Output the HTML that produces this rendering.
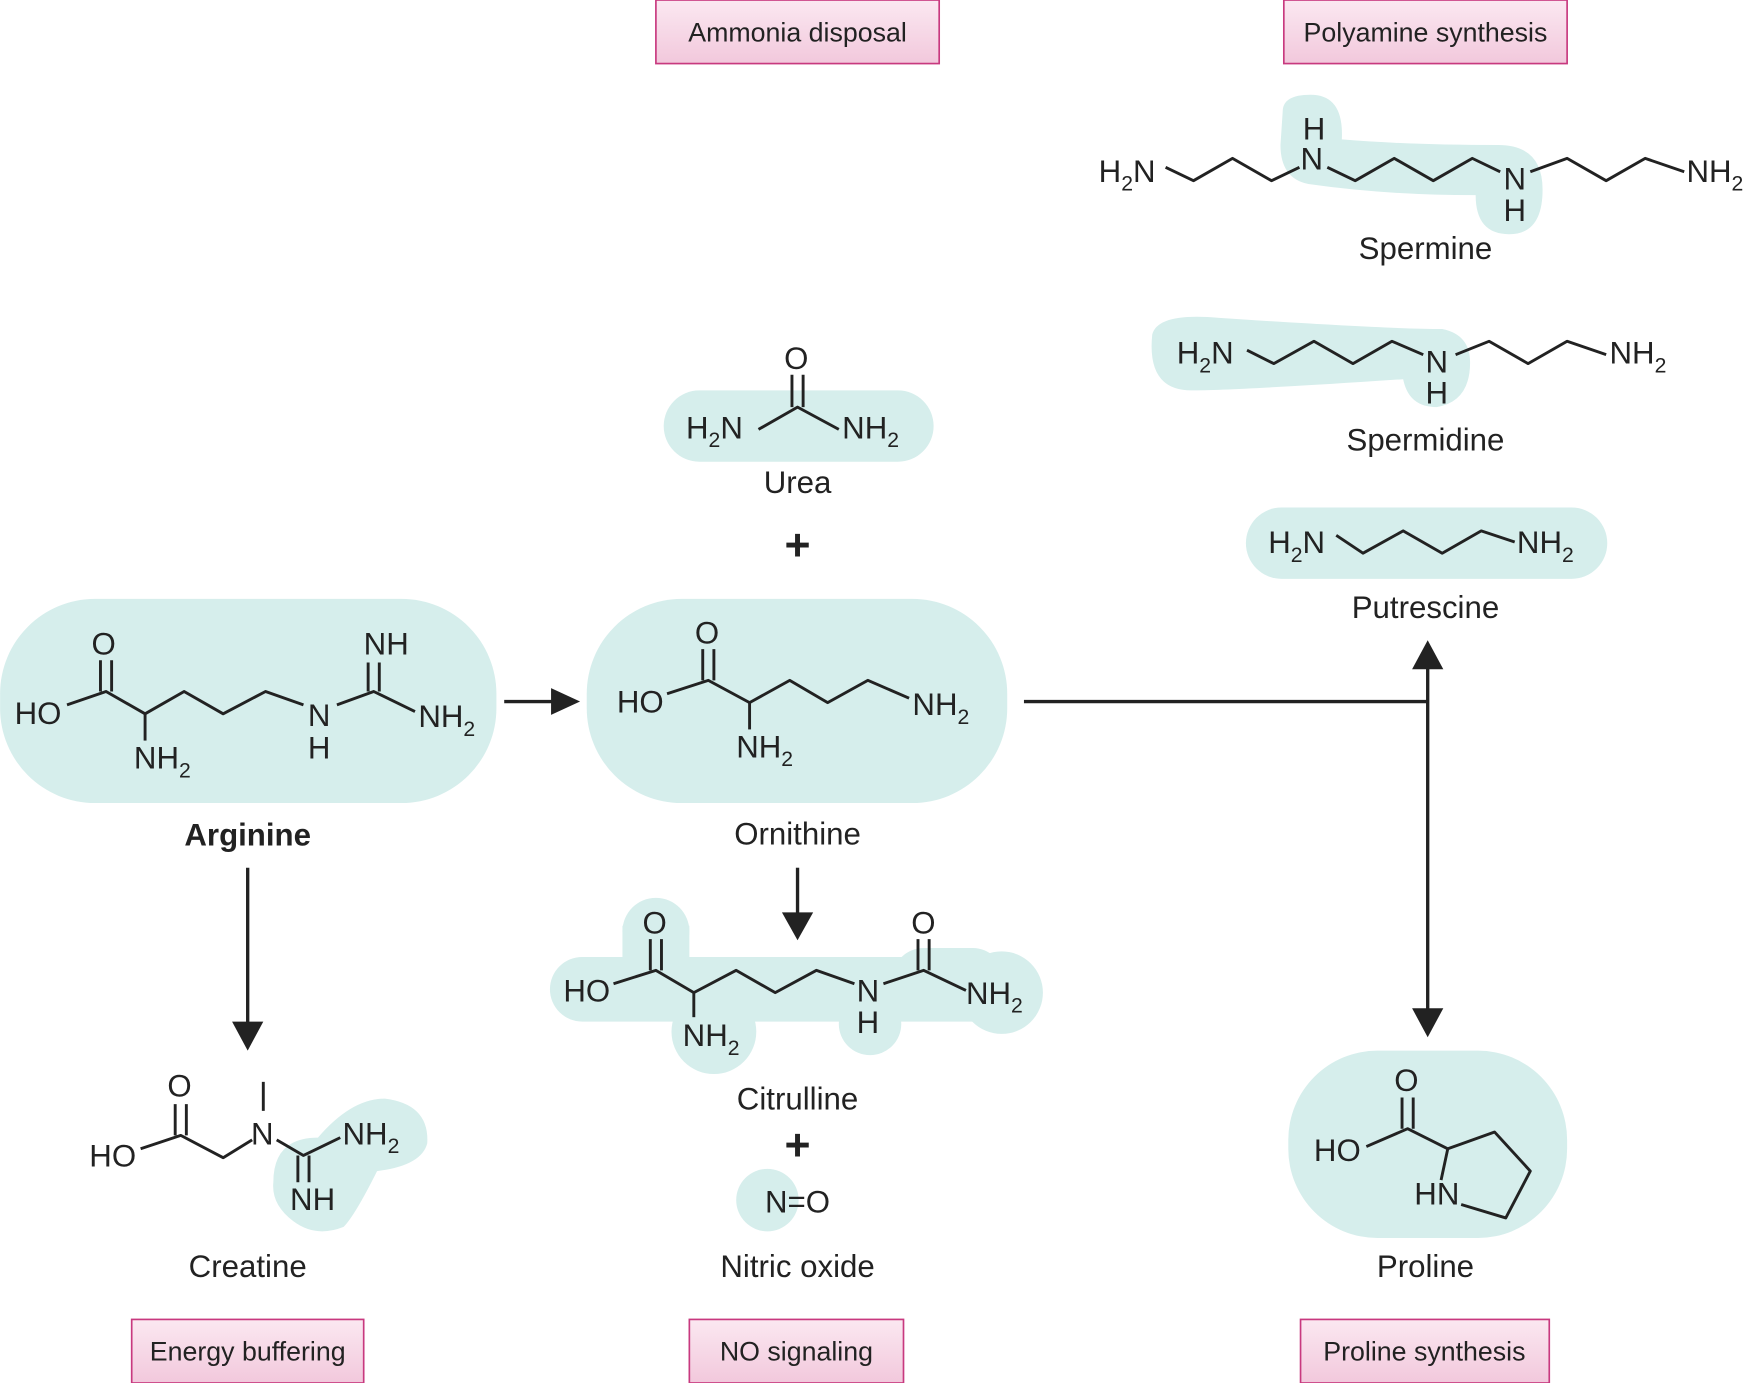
<!DOCTYPE html>
<html><head><meta charset="utf-8"><style>
html,body{margin:0;padding:0;background:#fff;}
svg{display:block;}
text{font-family:"Liberation Sans",Arial,sans-serif;fill:#222;}
.t{font-size:28px;}
.lbl{font-size:24px;}
.bl{fill:#d6eeec;}
.b{stroke:#222;stroke-width:2.6;fill:none;stroke-linejoin:round;}
</style></head><body>
<svg width="1749" height="1383" viewBox="0 0 1568 1240" xmlns="http://www.w3.org/2000/svg">
<defs><linearGradient id="pg" x1="0" y1="0" x2="0" y2="1"><stop offset="0" stop-color="#fbe8f1"/><stop offset="1" stop-color="#f2c8dc"/></linearGradient></defs>
<g>
<rect x="588" y="0" width="254" height="57" fill="url(#pg)" stroke="#c8397f" stroke-width="1.5"/>
<text x="715" y="37" class="lbl" text-anchor="middle">Ammonia disposal</text>
<rect x="1151" y="0" width="254" height="57" fill="url(#pg)" stroke="#c8397f" stroke-width="1.5"/>
<text x="1278" y="37" class="lbl" text-anchor="middle">Polyamine synthesis</text>
<rect x="118" y="1183" width="208" height="57" fill="url(#pg)" stroke="#c8397f" stroke-width="1.5"/>
<text x="222" y="1220" class="lbl" text-anchor="middle">Energy buffering</text>
<rect x="618" y="1183" width="192" height="57" fill="url(#pg)" stroke="#c8397f" stroke-width="1.5"/>
<text x="714" y="1220" class="lbl" text-anchor="middle">NO signaling</text>
<rect x="1166" y="1183" width="223" height="57" fill="url(#pg)" stroke="#c8397f" stroke-width="1.5"/>
<text x="1277" y="1220" class="lbl" text-anchor="middle">Proline synthesis</text>
</g>
<!-- blobs -->
<rect class="bl" x="0" y="537" width="445" height="183" rx="85"/>
<rect class="bl" x="526" y="537" width="377" height="183" rx="85"/>
<rect class="bl" x="595" y="350" width="242" height="64" rx="32"/>
<rect class="bl" x="1117" y="455" width="324" height="64" rx="32"/>
<rect class="bl" x="1155" y="942" width="250" height="168" rx="80"/>
<circle class="bl" cx="688" cy="1076" r="28"/>
<path class="bl" d="M1150 100 q0-15 25-15 q30 0 28 40 q60 5 140 5 q40 0 40 40 q0 40-30 40 q-30 0-30-35 q-80 0-150-10 q-25-5-25-35z"/>
<path class="bl" d="M1033 300 q5-20 60-15 q150 10 200 10 q25 5 25 30 q0 35-30 40 q-25 0-30-25 q-150 10-190 10 q-40 0-35-50z"/>
<g class="bl">
<rect x="493" y="858" width="440" height="58" rx="29"/>
<circle cx="588" cy="835" r="30"/>
<rect x="558" y="830" width="60" height="50"/>
<circle cx="640" cy="925" r="38"/>
<circle cx="780" cy="918" r="28"/>
<circle cx="898" cy="890" r="37"/>
<rect x="800" y="850" width="100" height="60" rx="28"/>
</g>
<path class="bl" d="M245 1060 q0-40 40-40 q30-35 60-35 q40 5 38 40 q-5 20-45 25 q-20 40-30 50 q-25 10-45-5 q-20-15-18-35z"/>
<!-- arginine -->
<g class="b">
<path d="M60 632 L95 620 L130 640 L165 620 L200 640 L238 620 L272 632"/>
<path d="M90 620 V592 M100 620 V592"/>
<path d="M130 640 V664"/>
<path d="M302 632 L335 620 L372 638"/>
<path d="M330 620 V594 M340 620 V594"/>
</g>
<text x="13" y="649" class="t">HO</text><text x="82" y="587" class="t">O</text>
<text x="120" y="689" class="t">NH<tspan font-size="19" dy="8">2</tspan></text>
<text x="276" y="651" class="t">N</text><text x="276" y="680" class="t">H</text>
<text x="326" y="587" class="t">NH</text>
<text x="375" y="652" class="t">NH<tspan font-size="19" dy="8">2</tspan></text>
<text x="222" y="758" class="t" text-anchor="middle" font-weight="bold">Arginine</text>
<!-- ornithine -->
<g class="b">
<path d="M598 622 L635 610 L672 630 L708 610 L742 630 L778 610 L815 626"/>
<path d="M630 610 V582 M640 610 V582"/><path d="M672 630 V654"/>
</g>
<text x="553" y="639" class="t">HO</text><text x="623" y="577" class="t">O</text>
<text x="660" y="679" class="t">NH<tspan font-size="19" dy="8">2</tspan></text>
<text x="818" y="641" class="t">NH<tspan font-size="19" dy="8">2</tspan></text>
<text x="715" y="757" class="t" text-anchor="middle">Ornithine</text>
<!-- urea -->
<g class="b"><path d="M680 385 L715 365 L752 385"/><path d="M710 365 V336 M720 365 V336"/></g>
<text x="703" y="331" class="t">O</text>
<text x="615" y="393" class="t">H<tspan font-size="19" dy="8">2</tspan><tspan dy="-8">N</tspan></text>
<text x="755" y="393" class="t">NH<tspan font-size="19" dy="8">2</tspan></text>
<text x="715" y="442" class="t" text-anchor="middle">Urea</text>
<text x="715" y="502" font-size="40" font-weight="bold" text-anchor="middle">+</text>
<!-- citrulline -->
<g class="b">
<path d="M550 882 L588 870 L622 890 L660 870 L695 890 L732 870 L766 882"/>
<path d="M583 870 V842 M593 870 V842"/><path d="M622 890 V912"/>
<path d="M792 882 L828 870 L866 888"/><path d="M823 870 V842 M833 870 V842"/>
</g>
<text x="505" y="898" class="t">HO</text><text x="576" y="837" class="t">O</text>
<text x="612" y="938" class="t">NH<tspan font-size="19" dy="8">2</tspan></text>
<text x="768" y="898" class="t">N</text><text x="768" y="926" class="t">H</text>
<text x="817" y="837" class="t">O</text>
<text x="866" y="900" class="t">NH<tspan font-size="19" dy="8">2</tspan></text>
<text x="715" y="995" class="t" text-anchor="middle">Citrulline</text>
<text x="715" y="1040" font-size="40" font-weight="bold" text-anchor="middle">+</text>
<text x="715" y="1087" class="t" text-anchor="middle">N=O</text>
<text x="715" y="1145" class="t" text-anchor="middle">Nitric oxide</text>
<!-- creatine -->
<g class="b">
<path d="M126 1030 L162 1018 L200 1038 L226 1022"/>
<path d="M157 1018 V990 M167 1018 V990"/>
<path d="M236 996 V970"/>
<path d="M248 1022 L272 1036 L305 1020"/>
<path d="M267 1036 V1060 M277 1036 V1060"/>
</g>
<text x="80" y="1046" class="t">HO</text><text x="150" y="983" class="t">O</text>
<text x="225" y="1026" class="t">N</text>
<text x="307" y="1026" class="t">NH<tspan font-size="19" dy="8">2</tspan></text>
<text x="260" y="1085" class="t">NH</text>
<text x="222" y="1145" class="t" text-anchor="middle">Creatine</text>
<!-- proline -->
<g class="b">
<path d="M1225 1028 L1262 1012 L1298 1030 L1340 1015 L1372 1050 L1350 1092 L1310 1080"/>
<path d="M1257 1012 V984 M1267 1012 V984"/><path d="M1298 1030 L1292 1058"/>
</g>
<text x="1178" y="1041" class="t">HO</text><text x="1250" y="978" class="t">O</text>
<text x="1268" y="1080" class="t">HN</text>
<text x="1278" y="1145" class="t" text-anchor="middle">Proline</text>
<!-- spermine -->
<g class="b"><path d="M1045 150 L1070 162 L1105 142 L1140 162 L1165 150"/><path d="M1190 150 L1215 162 L1250 142 L1285 162 L1320 142 L1345 154"/><path d="M1372 154 L1405 142 L1440 162 L1475 142 L1510 154"/></g>
<text x="985" y="163" class="t">H<tspan font-size="19" dy="8">2</tspan><tspan dy="-8">N</tspan></text>
<text x="1168" y="125" class="t">H</text><text x="1166" y="152" class="t">N</text>
<text x="1348" y="170" class="t">N</text><text x="1348" y="198" class="t">H</text>
<text x="1512" y="163" class="t">NH<tspan font-size="19" dy="8">2</tspan></text>
<text x="1278" y="232" class="t" text-anchor="middle">Spermine</text>
<!-- spermidine -->
<g class="b"><path d="M1118 314 L1142 326 L1178 306 L1213 326 L1248 306 L1276 318"/><path d="M1305 318 L1335 306 L1370 326 L1405 306 L1440 318"/></g>
<text x="1055" y="326" class="t">H<tspan font-size="19" dy="8">2</tspan><tspan dy="-8">N</tspan></text>
<text x="1278" y="334" class="t">N</text><text x="1278" y="362" class="t">H</text>
<text x="1443" y="326" class="t">NH<tspan font-size="19" dy="8">2</tspan></text>
<text x="1278" y="404" class="t" text-anchor="middle">Spermidine</text>
<!-- putrescine -->
<g class="b"><path d="M1198 480 L1222 496 L1258 476 L1293 496 L1328 476 L1358 486"/></g>
<text x="1137" y="496" class="t">H<tspan font-size="19" dy="8">2</tspan><tspan dy="-8">N</tspan></text>
<text x="1360" y="496" class="t">NH<tspan font-size="19" dy="8">2</tspan></text>
<text x="1278" y="554" class="t" text-anchor="middle">Putrescine</text>
<!-- arrows -->
<g stroke="#222" stroke-width="3" fill="none">
<path d="M452 629 H496"/><path d="M222 778 V918"/><path d="M715 778 V820"/>
<path d="M918 629 H1280"/><path d="M1280 596 V908"/>
</g>
<g fill="#222">
<path d="M494 617 L520 629 L494 641Z"/>
<path d="M208 916 L222 942 L236 916Z"/>
<path d="M701 818 L715 843 L729 818Z"/>
<path d="M1266 600 L1280 574 L1294 600Z"/>
<path d="M1266 904 L1280 930 L1294 904Z"/>
</g>
</svg>
</body></html>
